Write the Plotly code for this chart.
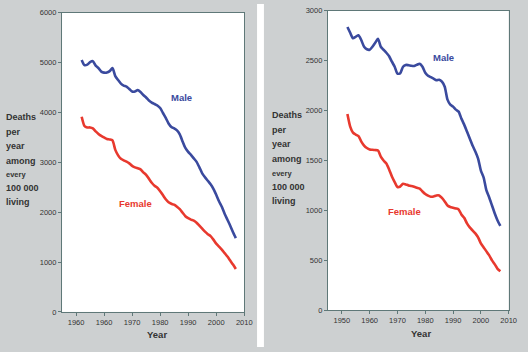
import plotly.graph_objects as go

years = list(range(1952, 2008))

# Left panel
left_male = [5055, 4950, 4960, 5010, 5030, 4940, 4890, 4820, 4800, 4800,
             4830, 4890, 4730, 4650, 4580, 4540, 4520, 4470, 4420, 4420,
             4450, 4410, 4350, 4300, 4240, 4200, 4170, 4140, 4090, 3990,
             3890, 3780, 3710, 3680, 3640, 3560, 3420, 3290, 3210, 3150,
             3080, 3010, 2900, 2780, 2700, 2630, 2560, 2470, 2350, 2220,
             2110, 1970, 1850, 1730, 1600, 1480]
left_female = [3914, 3730, 3700, 3700, 3680, 3620, 3570, 3530, 3500, 3470,
               3460, 3440, 3250, 3140, 3070, 3040, 3015, 2980, 2930, 2900,
               2880, 2860, 2800, 2750, 2670, 2590, 2530, 2490, 2420, 2340,
               2260, 2200, 2170, 2150, 2110, 2060, 1990, 1920, 1880, 1850,
               1830, 1790, 1730, 1670, 1610, 1560, 1520, 1450, 1370, 1310,
               1250, 1180, 1110, 1030, 950, 860]

# Right panel
right_male = [2838, 2780, 2725, 2740, 2756, 2705, 2640, 2615, 2610, 2640,
              2680, 2720, 2640, 2610, 2580, 2545, 2490, 2440, 2370, 2375,
              2440, 2458, 2455, 2450, 2448, 2460, 2470, 2440, 2380, 2350,
              2335, 2320, 2305, 2310, 2290, 2240, 2110, 2060, 2040, 2010,
              1990, 1920, 1860, 1790, 1720, 1650, 1590, 1520, 1400, 1330,
              1200, 1130, 1050, 970, 900, 845]
right_female = [1966, 1840, 1780, 1760, 1745, 1690, 1650, 1625, 1610, 1608,
                1605, 1600, 1540, 1500, 1470, 1410, 1340, 1284, 1235, 1240,
                1268, 1260, 1251, 1245, 1237, 1228, 1219, 1190, 1165, 1148,
                1137, 1140, 1150, 1150, 1125, 1090, 1050, 1035, 1028, 1020,
                1010, 960, 926, 870, 830, 800, 770, 730, 670, 630,
                590, 550, 500, 460, 415, 390]

x_tickvals = [1950, 1960, 1970, 1980, 1990, 2000, 2010]
x_ticktext_left = ["1960", "1960", "1970", "1980", "1990", "2000", "2010"]
x_ticktext_right = ["1950", "1960", "1970", "1980", "1990", "2000", "2010"]
y_ticks_left = [0, 1000, 2000, 3000, 4000, 5000, 6000]
y_ticks_right = [0, 500, 1000, 1500, 2000, 2500, 3000]
ytitle_lines = ["Deaths", "per", "year", "among", "every", "100 000", "living"]

W, H = 528, 352
BLUE = "#3a4a9e"
RED = "#e8392e"
GRAY_BG = "#cdd0d1"
AXIS = "#5f7878"
TXT = "#333333"
FONT = "Liberation Sans, Arial, sans-serif"

fig = go.Figure()
for x_, yv, col, ax in [(years, left_male, BLUE, "1"), (years, left_female, RED, "1"),
                        (years, right_male, BLUE, "2"), (years, right_female, RED, "2")]:
    fig.add_trace(go.Scatter(
        x=x_, y=yv, mode="lines", line=dict(color=col, width=2.6, shape="spline", smoothing=0.6),
        xaxis="x" if ax == "1" else "x2", yaxis="y" if ax == "1" else "y2",
        showlegend=False, hoverinfo="skip"))

def px_x(p):
    return p / W

def px_y(p):
    return 1 - p / H

axis_common = dict(showgrid=False, zeroline=False, showline=True, linecolor=AXIS, linewidth=1.2,
                   mirror=True, ticks="outside", tickcolor=AXIS, ticklen=3, tickwidth=1,
                   tickfont=dict(family=FONT, size=7.5, color=TXT))

fig.update_layout(
    width=W, height=H, margin=dict(l=0, r=0, t=0, b=0),
    paper_bgcolor=GRAY_BG, plot_bgcolor="white",
    xaxis=dict(domain=[px_x(63), px_x(248)], range=[1945, 2010], tickmode="array",
               tickvals=x_tickvals, ticktext=x_ticktext_left, anchor="y", **axis_common),
    yaxis=dict(domain=[px_y(316), px_y(9)], range=[0, 6000], tickmode="array",
               tickvals=y_ticks_left, anchor="x", **axis_common),
    xaxis2=dict(domain=[px_x(333), px_x(516.5)], range=[1945, 2010], tickmode="array",
                tickvals=x_tickvals, ticktext=x_ticktext_right, anchor="y2", **axis_common),
    yaxis2=dict(domain=[px_y(314.3), px_y(7)], range=[0, 3000], tickmode="array",
                tickvals=y_ticks_right, anchor="x2", **axis_common),
    shapes=[dict(type="rect", xref="paper", yref="paper", x0=px_x(261), x1=px_x(268),
                 y0=0, y1=1, fillcolor="white", line=dict(width=0), layer="below")],
)

ann = []

def add_text(text, xp, yp, size, color=TXT, bold=True, xanchor="left"):
    ann.append(dict(text=f"<b>{text}</b>" if bold else text, x=px_x(xp), y=px_y(yp),
                    xref="paper", yref="paper", xanchor=xanchor, yanchor="middle",
                    showarrow=False, font=dict(family=FONT, size=size, color=color)))

left_ys = [116, 131, 146, 161, 175, 189, 203.5]
right_ys = [114, 129, 144, 159.5, 174, 188, 202.5]
for line, ly, ry in zip(ytitle_lines, left_ys, right_ys):
    sz = 7.5 if line == "every" else 9
    add_text(line, 4.5, ly, sz)
    add_text(line, 274.5, ry, sz)

add_text("Year", 159, 339, 9.5, xanchor="center")
add_text("Year", 427, 338, 9.5, xanchor="center")
add_text("Male", 184.5, 96, 9.5, BLUE, xanchor="center")
add_text("Female", 138, 205, 9.5, RED, xanchor="center")
add_text("Male", 450.5, 55, 9.5, BLUE, xanchor="center")
add_text("Female", 411, 212.5, 9.5, RED, xanchor="center")

fig.update_layout(annotations=ann)
fig.write_html("out.html")
